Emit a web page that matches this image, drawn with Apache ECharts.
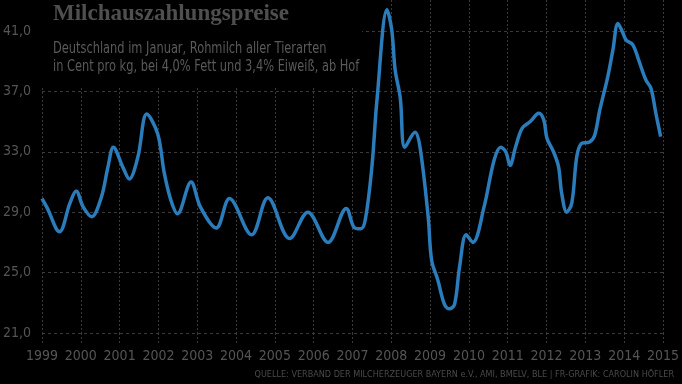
<!DOCTYPE html>
<html>
<head>
<meta charset="utf-8">
<script src="https://cdn.jsdelivr.net/npm/echarts@6/dist/echarts.min.js"></script>
<style>
html,body{margin:0;padding:0;background:#000;}
#c{width:682px;height:384px;}
</style>
</head>
<body>
<div id="c"></div>
<script>
// time position (year fraction) of each read point
const dates = [
  1999.00, 1999.13, 1999.45, 1999.72, 1999.88, 2000.06, 2000.28, 2000.53, 2000.70, 2000.84,
  2001.08, 2001.25, 2001.47, 2001.70, 2001.98, 2002.15, 2002.32, 2002.49, 2002.84, 2003.08,
  2003.49, 2003.83, 2004.40, 2004.82, 2005.38, 2005.85, 2006.37, 2006.84, 2007.04, 2007.21,
  2007.33, 2007.50, 2007.63, 2007.89, 2008.01, 2008.10, 2008.23, 2008.35, 2008.61, 2008.74,
  2008.95, 2009.04, 2009.20, 2009.37, 2009.50, 2009.63, 2009.76, 2009.93, 2010.10, 2010.39,
  2010.65, 2010.82, 2010.95, 2011.06, 2011.20, 2011.37, 2011.58, 2011.80, 2011.93, 2012.01,
  2012.18, 2012.31, 2012.39, 2012.52, 2012.65, 2012.78, 2012.90, 2013.11, 2013.24, 2013.37,
  2013.58, 2013.71, 2013.84, 2013.97, 2014.05, 2014.22, 2014.39, 2014.56, 2014.69, 2014.82,
  2014.94
];
// Milchauszahlungspreis, Cent pro kg
const prices = [
  29.9, 29.3, 27.7, 29.6, 30.4, 29.35, 28.7, 30.0, 32.0, 33.3,
  32.0, 31.2, 32.65, 35.5, 34.2, 31.6, 29.8, 28.9, 31.0, 29.35,
  27.95, 29.9, 27.5, 29.95, 27.25, 29.0, 27.0, 29.25, 28.0, 27.9,
  28.5, 32.0, 36.4, 42.4, 41.1, 38.4, 36.6, 33.3, 34.3, 33.3,
  28.7, 25.8, 24.5, 22.9, 22.6, 22.9, 25.4, 27.5, 27.0, 29.35,
  32.45, 33.3, 33.0, 32.1, 33.3, 34.55, 35.0, 35.55, 35.1, 33.9,
  33.0, 32.0, 30.25, 29.0, 29.6, 32.7, 33.55, 33.65, 34.1, 35.75,
  38.0, 39.75, 41.5, 40.85, 40.4, 40.1, 38.95, 37.75, 37.2, 35.5,
  34.0
];
const yTicks = [21, 25, 29, 33, 37, 41];
const xYears = [1999, 2000, 2001, 2002, 2003, 2004, 2005, 2006, 2007, 2008, 2009, 2010, 2011, 2012, 2013, 2014, 2015];

const titleText = 'Milchauszahlungspreise';
const subLine1 = 'Deutschland im Januar, Rohmilch aller Tierarten';
const subLine2 = 'in Cent pro kg, bei 4,0% Fett und 3,4% Eiweiß, ab Hof';
const sourceText = 'QUELLE: VERBAND DER MILCHERZEUGER BAYERN e.V., AMI, BMELV, BLE | FR-GRAFIK: CAROLIN HÖFLER';

const narrow = '"DejaVu Sans Condensed", "Liberation Sans Narrow", "Roboto", sans-serif';
const gridColor = '#3a3a3a';
const textColor = '#555555';

const chart = echarts.init(document.getElementById('c'), null, {renderer: 'canvas'});
const seriesData = dates.map((d, i) => [d, prices[i]]);

chart.setOption({
  backgroundColor: '#000000',
  animation: false,
  grid: {left: 40, right: 15, top: 0, bottom: 51, containLabel: false},
  xAxis: {
    type: 'value',
    min: xYears[0],
    max: xYears[xYears.length - 1],
    interval: 1,
    axisLine: {show: false},
    axisTick: {show: true, length: 10, inside: false, lineStyle: {color: gridColor, type: [2, 2], width: 1}},
    splitLine: {show: true, lineStyle: {color: gridColor, type: [2, 2], width: 1}},
    axisLabel: {
      color: textColor, fontFamily: narrow, fontSize: 14, margin: 16,
      formatter: v => String(Math.round(v))
    }
  },
  yAxis: {
    type: 'value',
    min: yTicks[0],
    max: 43.05,
    interval: 4,
    axisLine: {show: false},
    axisTick: {show: false},
    splitLine: {show: true, lineStyle: {color: [gridColor, gridColor, gridColor, gridColor, gridColor, gridColor, 'rgba(0,0,0,0)'], type: [3, 3], width: 1}},
    axisLabel: {
      color: textColor, fontFamily: narrow, fontSize: 14, align: 'left', margin: 39,
      showMaxLabel: false,
      formatter: v => yTicks.indexOf(v) >= 0 ? v.toFixed(1).replace('.', ',') : ''
    }
  },
  graphic: [
    {type: 'rect', z: 1, shape: {x: 42, y: 0, width: 320, height: 86}, style: {fill: '#000000'}},
    {type: 'text', z: 10, x: 53, y: 14, style: {text: titleText, fill: '#4f4f4f', font: 'bold 23px "Liberation Serif", "DejaVu Serif", serif', textVerticalAlign: 'middle'}},
    {type: 'text', z: 10, x: 53, y: 49, scaleX: 0.845, style: {text: subLine1, fill: '#5a5a5a', font: '15px ' + narrow, textVerticalAlign: 'middle'}},
    {type: 'text', z: 10, x: 53, y: 67, scaleX: 0.845, style: {text: subLine2, fill: '#5a5a5a', font: '15px ' + narrow, textVerticalAlign: 'middle'}},
    {type: 'text', z: 10, x: 674, y: 375, style: {text: sourceText, fill: '#4a4a4a', font: '9px ' + narrow, textAlign: 'right', textVerticalAlign: 'middle'}}
  ],
  series: [{
    type: 'line',
    data: seriesData,
    smooth: 0.35,
    showSymbol: false,
    clip: false,
    z: 5,
    lineStyle: {color: '#2a7cbb', width: 3.5}
  }]
});
</script>
</body>
</html>
